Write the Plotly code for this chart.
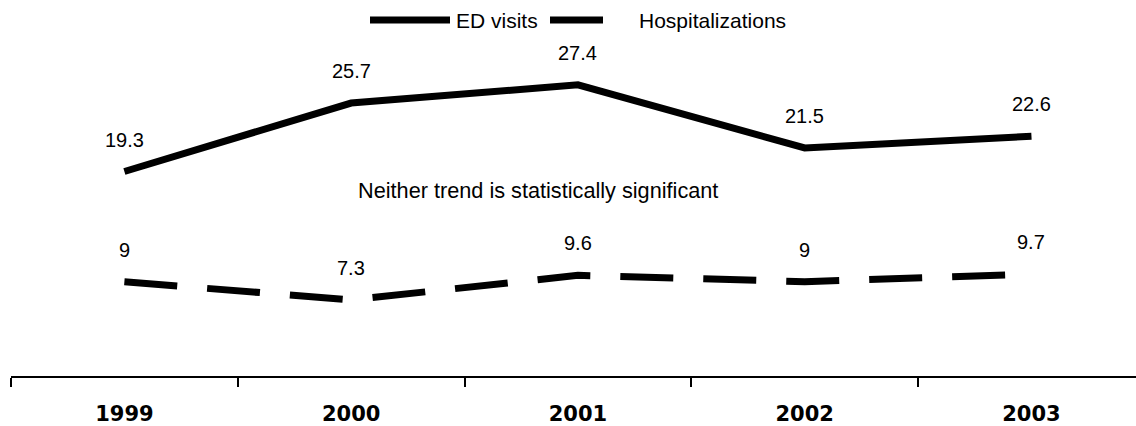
import plotly.graph_objects as go

# Rates by year
years = ["1999", "2000", "2001", "2002", "2003"]
ed_visits = [19.3, 25.7, 27.4, 21.5, 22.6]
hospitalizations = [9, 7.3, 9.6, 9, 9.7]
series_names = ["ED visits", "Hospitalizations"]
note_text = "Neither trend is statistically significant"

W, H = 1136, 426
M_L, M_R, M_T, M_B = 11, 0, 55, 50
Y_RANGE = [0.19, 30.19]
LINE_W = 7
DASH = "53px,30px"

plot_w = W - M_L - M_R
plot_h = H - M_T - M_B


def px_to_paper(px, py):
    return (px - M_L) / plot_w, (H - M_B - py) / plot_h


fig = go.Figure()
fig.add_trace(go.Scatter(
    x=years, y=ed_visits, mode="lines", name=series_names[0],
    line=dict(color="black", width=LINE_W), showlegend=False,
))
fig.add_trace(go.Scatter(
    x=years, y=hospitalizations, mode="lines", name=series_names[1],
    line=dict(color="black", width=LINE_W, dash=DASH), showlegend=False,
))

# value labels above each point (category index on the x axis)
label_font = dict(family="Arial, Liberation Sans, sans-serif", size=20, color="black")
for series in (ed_visits, hospitalizations):
    for i, v in enumerate(series):
        fig.add_annotation(x=i, y=v, text=f"{v:g}", showarrow=False,
                           yshift=32, font=label_font)

# centre note
nx, ny = px_to_paper(538, 190)
fig.add_annotation(x=nx, y=ny, xref="paper", yref="paper", text=note_text,
                   showarrow=False, font=dict(label_font, size=21.7))

# legend drawn along the top
leg_y = 20
x0, y0 = px_to_paper(370, leg_y)
x1, _ = px_to_paper(450, leg_y)
fig.add_shape(type="line", xref="paper", yref="paper", x0=x0, x1=x1, y0=y0, y1=y0,
              line=dict(color="black", width=LINE_W))
tx, _ = px_to_paper(454, leg_y)
fig.add_annotation(x=tx, y=y0, xref="paper", yref="paper", text=series_names[0],
                   xanchor="left", yanchor="middle", showarrow=False,
                   font=dict(label_font, size=21))
x0, _ = px_to_paper(550, leg_y)
x1, _ = px_to_paper(603, leg_y)
fig.add_shape(type="line", xref="paper", yref="paper", x0=x0, x1=x1, y0=y0, y1=y0,
              line=dict(color="black", width=LINE_W))
tx, _ = px_to_paper(637, leg_y)
fig.add_annotation(x=tx, y=y0, xref="paper", yref="paper", text=series_names[1],
                   xanchor="left", yanchor="middle", showarrow=False,
                   font=dict(label_font, size=21))

fig.update_xaxes(
    type="category", range=[-0.5, 4.461], showgrid=False, zeroline=False,
    showline=True, linecolor="black", linewidth=2,
    ticks="outside", tickson="boundaries", ticklen=9, tickwidth=2, tickcolor="black",
    tickfont=dict(family="DejaVu Sans, Verdana, sans-serif", size=21, color="black",
                  weight="bold"),
    ticklabelstandoff=18,
)
fig.update_yaxes(range=Y_RANGE, visible=False, showgrid=False, zeroline=False)

fig.update_layout(
    width=W, height=H,
    margin=dict(l=M_L, r=M_R, t=M_T, b=M_B, pad=0),
    paper_bgcolor="white", plot_bgcolor="white",
    showlegend=False,
)

fig.write_html("out.html")
